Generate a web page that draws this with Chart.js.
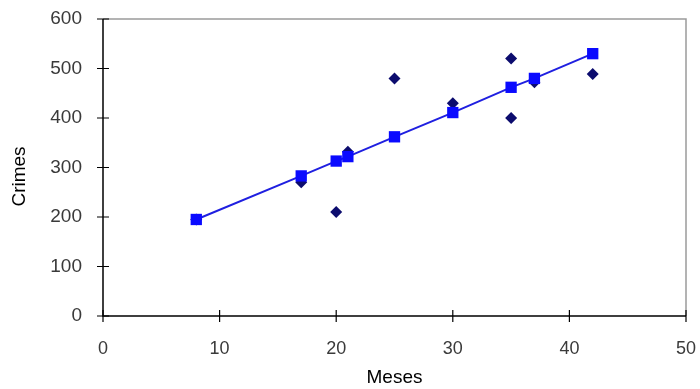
<!DOCTYPE html>
<html>
<head>
<meta charset="utf-8">
<script src="https://cdn.jsdelivr.net/npm/chart.js@4/dist/chart.umd.min.js"></script>
<style>
html,body{margin:0;padding:0;background:#fff;}
#wrap{width:700px;height:389px;position:relative;}
</style>
</head>
<body>
<div id="wrap"><canvas id="c" width="700" height="389"></canvas></div>
<script>
// Data
const meses = [8, 17, 20, 21, 25, 30, 35, 35, 37, 42];
const crimes = [195, 270, 210, 332, 480, 430, 520, 400, 472, 489];
const fitMeses = [8, 17, 20, 21, 25, 30, 35, 37, 42];
const fitCrimes = [195, 283, 313, 322, 362, 411, 462, 480, 530];
const xTicks = [0, 10, 20, 30, 40, 50];
const yTicks = [0, 100, 200, 300, 400, 500, 600];
const xTitle = 'Meses';
const yTitle = 'Crimes';

const observed = meses.map((m, i) => ({x: m, y: crimes[i]}));
const fitted = fitMeses.map((m, i) => ({x: m, y: fitCrimes[i]}));

const FONT = '"Liberation Sans", Arial, sans-serif';

const framePlugin = {
  id: 'frame',
  afterDraw(chart) {
    const ctx = chart.ctx;
    const a = chart.chartArea;
    const xs = chart.scales.x, ys = chart.scales.y;
    ctx.save();
    // grey top/right frame
    ctx.strokeStyle = '#9a9a9a';
    ctx.lineWidth = 1.5;
    ctx.beginPath();
    ctx.moveTo(a.left, a.top);
    ctx.lineTo(a.right, a.top);
    ctx.lineTo(a.right, a.bottom);
    ctx.stroke();
    // black axes
    ctx.strokeStyle = '#000';
    ctx.lineWidth = 1.5;
    ctx.beginPath();
    ctx.moveTo(a.left, a.top);
    ctx.lineTo(a.left, a.bottom);
    ctx.lineTo(a.right, a.bottom);
    ctx.stroke();
    // crossing tick marks
    ctx.lineWidth = 1.2;
    ctx.beginPath();
    yTicks.forEach(v => {
      const py = ys.getPixelForValue(v);
      ctx.moveTo(a.left - 6, py);
      ctx.lineTo(a.left + 6, py);
    });
    xTicks.forEach(v => {
      const px = xs.getPixelForValue(v);
      ctx.moveTo(px, a.bottom - 6);
      ctx.lineTo(px, a.bottom + 6);
    });
    ctx.stroke();
    // y axis title
    ctx.fillStyle = '#000';
    ctx.font = '19px ' + FONT;
    ctx.textAlign = 'center';
    ctx.textBaseline = 'middle';
    ctx.translate(20, (a.top + a.bottom) / 2 + 9);
    ctx.rotate(-Math.PI / 2);
    ctx.fillText(yTitle, 0, 0);
    ctx.restore();
  }
};

new Chart(document.getElementById('c'), {
  type: 'scatter',
  data: {
    datasets: [
      {
        label: 'Ajuste',
        data: fitted,
        showLine: true,
        borderColor: '#1f1fe0',
        borderWidth: 2,
        pointStyle: 'rect',
        pointRadius: 8,
        pointBackgroundColor: '#0a0aff',
        pointBorderColor: '#0a0aff',
        pointBorderWidth: 0,
        tension: 0
      },
      {
        label: 'Crimes',
        data: observed,
        pointStyle: 'rectRot',
        pointRadius: 6,
        pointBackgroundColor: '#0c0c6e',
        pointBorderColor: '#0c0c6e',
        pointBorderWidth: 0
      }
    ]
  },
  options: {
    responsive: false,
    animation: false,
    layout: {padding: {left: 0, right: 14, top: 19, bottom: 0}},
    plugins: {legend: {display: false}, tooltip: {enabled: false}},
    scales: {
      x: {
        type: 'linear',
        min: 0, max: 50,
        afterBuildTicks: s => { s.ticks = xTicks.map(v => ({value: v})); },
        afterFit: s => { s.height = 73; s.paddingLeft = 0; s.paddingRight = 0; },
        grid: {display: true, drawOnChartArea: false, drawTicks: false},
        border: {display: false},
        ticks: {
          padding: 22,
          color: '#3a3a3a',
          font: {family: FONT, size: 18}
        },
        title: {
          display: true,
          text: xTitle,
          color: '#000',
          padding: {top: 0, bottom: 0},
          font: {family: FONT, size: 19}
        }
      },
      y: {
        type: 'linear',
        min: 0, max: 600,
        afterBuildTicks: s => { s.ticks = yTicks.map(v => ({value: v})); },
        afterFit: s => { s.width = 103; s.paddingTop = 0; s.paddingBottom = 0; },
        grid: {display: true, drawOnChartArea: false, drawTicks: false},
        border: {display: false},
        ticks: {
          padding: 21,
          color: '#3a3a3a',
          font: {family: FONT, size: 19}
        }
      }
    }
  },
  plugins: [framePlugin]
});
</script>
</body>
</html>
